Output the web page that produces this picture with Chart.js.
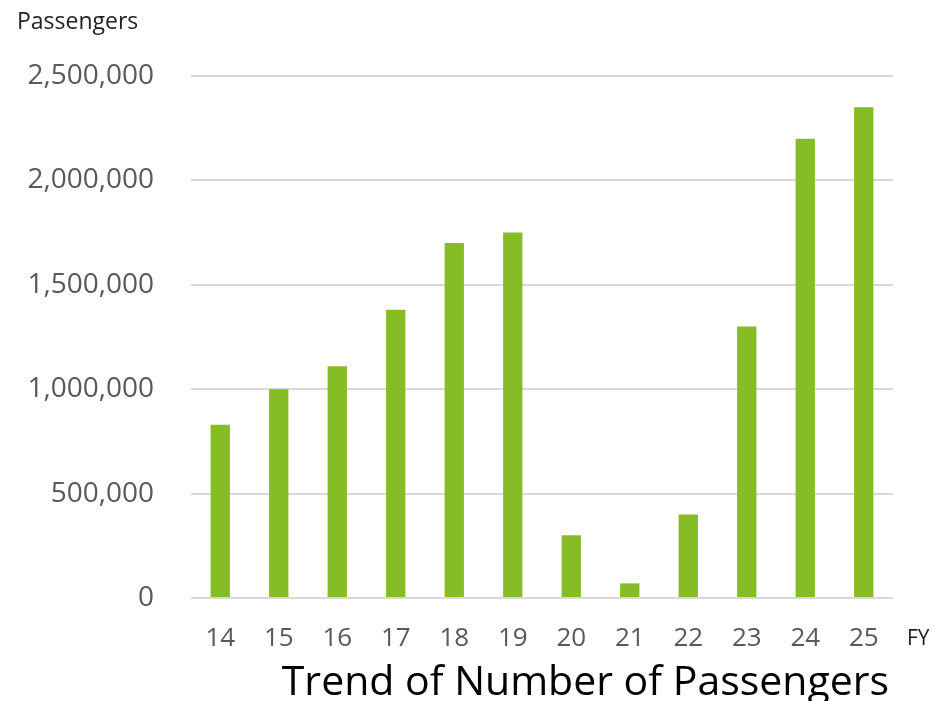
<!DOCTYPE html>
<html lang="en">
<head>
<meta charset="UTF-8">
<title>Trend of Number of Passengers</title>
<script src="https://cdn.jsdelivr.net/npm/chart.js"></script>
<style>
  body { margin: 0; background: #fff; }
  #wrap { width: 935px; height: 701px; }
</style>
</head>
<body>
<div id="wrap"><canvas id="chart" width="935" height="701"></canvas></div>
<script>
const years = ['14', '15', '16', '17', '18', '19', '20', '21', '22', '23', '24', '25'];
const passengers = [830000, 1000000, 1110000, 1380000, 1700000, 1750000, 300000, 70000, 400000, 1300000, 2200000, 2350000];
const yTicks = [0, 500000, 1000000, 1500000, 2000000, 2500000];

const FONT = '"Open Sans", "Noto Sans", sans-serif';

// extra labels: y-axis unit, x-axis unit and title under the chart
const labelsPlugin = {
  id: 'extraLabels',
  afterDraw(chart) {
    const ctx = chart.ctx;
    ctx.save();
    ctx.fillStyle = '#222';
    ctx.font = '23px ' + FONT;
    ctx.textAlign = 'left';
    ctx.textBaseline = 'alphabetic';
    ctx.fillText('Passengers', 17, 29);
    ctx.font = '21px ' + FONT;
    ctx.fillText('FY', 907, 645);
    ctx.fillStyle = '#000';
    ctx.font = '41px ' + FONT;
    ctx.textAlign = 'right';
    ctx.fillText('Trend of Number of Passengers', 889, 695);
    ctx.restore();
  }
};

new Chart(document.getElementById('chart'), {
  type: 'bar',
  data: {
    labels: years,
    datasets: [{
      data: passengers,
      backgroundColor: '#86bc25',
      borderWidth: 0,
      categoryPercentage: 1,
      barPercentage: 0.33
    }]
  },
  options: {
    responsive: false,
    animation: false,
    layout: { padding: { top: 76, right: 42, left: 0, bottom: 0 } },
    plugins: { legend: { display: false }, tooltip: { enabled: false } },
    scales: {
      x: {
        grid: { display: false },
        border: { display: false },
        ticks: { color: '#595959', font: { family: FONT, size: 26 }, padding: 17 },
        afterFit(scale) { scale.height = 103; }
      },
      y: {
        min: 0,
        max: 2500000,
        afterBuildTicks(scale) { scale.ticks = yTicks.map(v => ({ value: v })); },
        grid: { color: '#d9d9d9', lineWidth: 2, drawTicks: false },
        border: { display: false },
        ticks: {
          color: '#595959',
          font: { family: FONT, size: 28 },
          padding: 37,
          callback: v => v.toLocaleString('en-US')
        },
        afterFit(scale) { scale.width = 191; }
      }
    }
  },
  plugins: [labelsPlugin]
});
</script>
</body>
</html>
